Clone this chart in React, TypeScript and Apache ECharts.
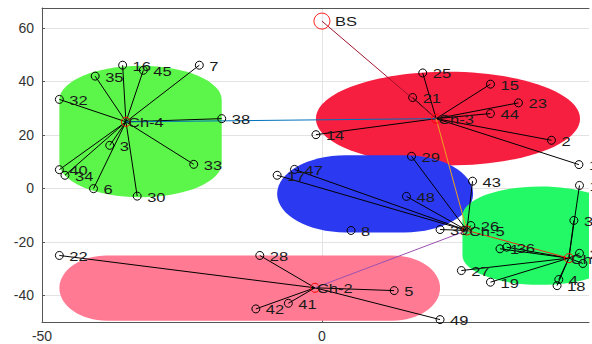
import React, { useEffect, useRef } from "react";
import * as echarts from "echarts";

// ---------- axis ticks ----------
const xTicks = [-50, 0];
const yTicks = [-40, -20, 0, 20, 40, 60];
const xMin = -50;
const xMax = 47.7;
const yMin = -50;
const yMax = 67.5;

// ---------- base station ----------
const bsName = "BS";
const bsX = 0;
const bsY = 62.6;

// ---------- cluster heads ----------
const headNames = ["Ch-1", "Ch-2", "Ch-3", "Ch-4", "Ch-5"];
const headX = [44.1, -1.25, 20.4, -35, 25.9];
const headY = [-26.1, -37.2, 26.1, 24.9, -15.75];

// ---------- member nodes ----------
const nodeIds = [
  "16", "45", "7", "35", "32", "38", "3", "33", "40", "34", "6", "30",
  "25", "15", "21", "23", "44", "14", "2", "11",
  "29", "47", "17", "48", "43", "39", "26", "8",
  "10", "37", "36", "1", "27", "19", "4", "18", "20", "24",
  "22", "28", "42", "41", "5", "49",
];
const nodeX = [
  -35.6, -31.9, -21.9, -40.5, -46.9, -17.9, -37.9, -22.9, -46.9, -45.9, -40.8, -33,
  18, 30.1, 16.2, 35.1, 30.1, -1.07, 41, 45.9,
  16, -4.9, -8, 15.1, 26.9, 21.1, 26.6, 5.2,
  46, 45, 33, 31.8, 24.9, 30.1, 42.3, 42, 46, 46.6,
  -46.9, -11.1, -11.8, -6, 12.9, 21.1,
];
const nodeY = [
  46.1, 44.2, 46.1, 42, 33.3, 26.1, 16.1, 9, 7, 4.9, -0.1, -2.9,
  43.2, 39, 34, 32, 28, 20.1, 18, 8.9,
  12, 7.1, 4.9, -3, 2.7, -15.4, -13.9, -15.75,
  1.1, -12, -22, -22.6, -30.75, -35.1, -34.1, -36.4, -24.3, -28.1,
  -25.1, -25.1, -45.1, -43, -38.25, -49.1,
];
const nodeHead = [
  "Ch-4", "Ch-4", "Ch-4", "Ch-4", "Ch-4", "Ch-4", "Ch-4", "Ch-4", "Ch-4", "Ch-4", "Ch-4", "Ch-4",
  "Ch-3", "Ch-3", "Ch-3", "Ch-3", "Ch-3", "Ch-3", "Ch-3", "Ch-3",
  "Ch-5", "Ch-5", "Ch-5", "Ch-5", "Ch-5", "Ch-5", "Ch-5", "",
  "Ch-1", "Ch-1", "Ch-1", "Ch-1", "Ch-1", "Ch-1", "Ch-1", "Ch-1", "Ch-1", "Ch-1",
  "Ch-2", "Ch-2", "Ch-2", "Ch-2", "Ch-2", "Ch-2",
];

// ---------- routing between heads ----------
const routeFrom = ["Ch-4", "Ch-3", "Ch-5", "Ch-1", "Ch-2"];
const routeTo = ["Ch-3", "BS", "Ch-3", "Ch-5", "Ch-5"];
const routeColors = ["#0072BD", "#A2142F", "#EDA21E", "#E8301A", "#9B4FB0"];

// ---------- cluster regions ----------
const regionXMin = [-46.9, -1.07, -8, 25.1, -46.9];
const regionXMax = [-17.9, 46.1, 27, 53, 21.1];
const regionYMin = [-3.3, 8.6, -16.5, -36.1, -49.5];
const regionYMax = [45.9, 43.6, 12.4, 0.75, -25.1];
const regionCurvX = [1, 1, 0.7, 1, 0.25];
const regionCurvY = [0.52, 1, 1, 0.6, 1];
const regionColors = ["#5CF54A", "#F61F40", "#2B39F1", "#23F866", "#FF7A92"];

const FONT = '"Liberation Sans", Arial, sans-serif';

function headPos(name: string): [number, number] {
  if (name === bsName) return [bsX, bsY];
  const i = headNames.indexOf(name);
  return [headX[i], headY[i]];
}

function roundRectPath(L: number, T: number, R: number, B: number, rx: number, ry: number) {
  const k = 0.5523;
  return [
    `M${L + rx},${T}`,
    `L${R - rx},${T}`,
    `C${R - rx + k * rx},${T} ${R},${T + ry - k * ry} ${R},${T + ry}`,
    `L${R},${B - ry}`,
    `C${R},${B - ry + k * ry} ${R - rx + k * rx},${B} ${R - rx},${B}`,
    `L${L + rx},${B}`,
    `C${L + rx - k * rx},${B} ${L},${B - ry + k * ry} ${L},${B - ry}`,
    `L${L},${T + ry}`,
    `C${L},${T + ry - k * ry} ${L + rx - k * rx},${T} ${L + rx},${T}`,
    "Z",
  ].join(" ");
}

export default function App() {
  const ref = useRef<HTMLDivElement>(null);

  useEffect(() => {
    if (!ref.current) return;
    const chart = echarts.init(ref.current, null, { renderer: "svg" });

    const memberLines = nodeIds
      .map((_, i) => i)
      .filter((i) => nodeHead[i] !== "")
      .map((i) => ({ coords: [[nodeX[i], nodeY[i]], headPos(nodeHead[i])] }));

    const routeLines = routeFrom.map((f, i) => ({
      coords: [headPos(f), headPos(routeTo[i])],
      lineStyle: { color: routeColors[i] },
    }));

    // label list
    const labelText: string[] = [];
    const labelX: number[] = [];
    const labelY: number[] = [];
    const labelOffset: number[] = [];
    nodeIds.forEach((id, i) => {
      labelText.push(id);
      labelX.push(nodeX[i]);
      labelY.push(nodeY[i]);
      labelOffset.push(10);
    });
    headNames.forEach((n, i) => {
      labelText.push(n);
      labelX.push(headX[i]);
      labelY.push(headY[i]);
      labelOffset.push(2);
    });
    labelText.push(bsName);
    labelX.push(bsX);
    labelY.push(bsY);
    labelOffset.push(13);

    const axisCommon = {
      type: "value" as const,
      axisLine: { show: true, onZero: false, lineStyle: { color: "#555", width: 1 } },
      axisTick: { show: true, inside: true, length: 3, lineStyle: { color: "#555" } },
      splitLine: { show: true, lineStyle: { color: "#e3e3e3", width: 1 } },
      axisLabel: { color: "#333", fontFamily: FONT, fontSize: 14 },
    };

    chart.setOption({
      animation: false,
      backgroundColor: "#fff",
      grid: { left: 42, right: 3, top: 8, bottom: 22, containLabel: false },
      xAxis: [
        {
          ...axisCommon,
          min: xMin,
          max: xMax,
          interval: 50,
          axisTick: { ...axisCommon.axisTick, customValues: xTicks },
          axisLabel: { ...axisCommon.axisLabel, margin: 7, customValues: xTicks },
        },
        {
          type: "value",
          position: "top",
          min: xMin,
          max: xMax,
          axisLine: { show: true, onZero: false, lineStyle: { color: "#555", width: 1 } },
          axisTick: { show: false },
          axisLabel: { show: false },
          splitLine: { show: false },
        },
      ],
      yAxis: {
        ...axisCommon,
        min: yMin,
        max: yMax,
        interval: 10,
        axisTick: { ...axisCommon.axisTick, customValues: yTicks },
        axisLabel: { ...axisCommon.axisLabel, margin: 8, customValues: yTicks },
      },
      series: [
        {
          type: "custom",
          clip: true,
          z: 1,
          data: regionXMin.map((_, i) => [regionXMin[i], regionYMin[i]]),
          renderItem: (params: any, api: any) => {
            const i = params.dataIndex;
            const p1 = api.coord([regionXMin[i], regionYMax[i]]);
            const p2 = api.coord([regionXMax[i], regionYMin[i]]);
            const w = p2[0] - p1[0];
            const h = p2[1] - p1[1];
            const rx = (regionCurvX[i] * w) / 2;
            const ry = (regionCurvY[i] * h) / 2;
            return {
              type: "path",
              shape: { pathData: roundRectPath(p1[0], p1[1], p2[0], p2[1], rx, ry) },
              style: { fill: regionColors[i], stroke: "none" },
            };
          },
        },
        {
          type: "lines",
          coordinateSystem: "cartesian2d",
          z: 2,
          silent: true,
          lineStyle: { color: "#000", width: 1, opacity: 1 },
          data: memberLines,
        },
        {
          type: "lines",
          coordinateSystem: "cartesian2d",
          z: 3,
          silent: true,
          lineStyle: { width: 1, opacity: 1 },
          data: routeLines,
        },
        {
          type: "scatter",
          z: 4,
          symbol: "circle",
          symbolSize: 8,
          itemStyle: { color: "transparent", borderColor: "#000", borderWidth: 1, opacity: 1 },
          data: nodeX.map((x, i) => [x, nodeY[i]]),
        },
        {
          type: "scatter",
          z: 4,
          symbol: "circle",
          symbolSize: 9,
          itemStyle: { color: "transparent", borderColor: "#ff0000", borderWidth: 1, opacity: 1 },
          data: headX.map((x, i) => [x, headY[i]]),
        },
        {
          type: "scatter",
          z: 4,
          symbol: "circle",
          symbolSize: 16,
          itemStyle: { color: "transparent", borderColor: "#ff2020", borderWidth: 1, opacity: 1 },
          data: [[bsX, bsY]],
        },
        {
          type: "custom",
          z: 5,
          silent: true,
          data: labelX.map((x, i) => [x, labelY[i]]),
          renderItem: (params: any, api: any) => {
            const i = params.dataIndex;
            const p = api.coord([labelX[i], labelY[i]]);
            return {
              type: "text",
              x: p[0] + labelOffset[i],
              y: p[1] + 1,
              scaleX: 1.27,
              style: {
                text: labelText[i],
                fill: "#1a1a1a",
                font: `13px ${FONT}`,
                align: "left",
                verticalAlign: "middle",
              },
            };
          },
        },
      ],
    });

    return () => chart.dispose();
  }, []);

  return (
    <div
      ref={ref}
      style={{ position: "fixed", left: 0, top: 0, width: 592, height: 344, background: "#fff" }}
    />
  );
}
